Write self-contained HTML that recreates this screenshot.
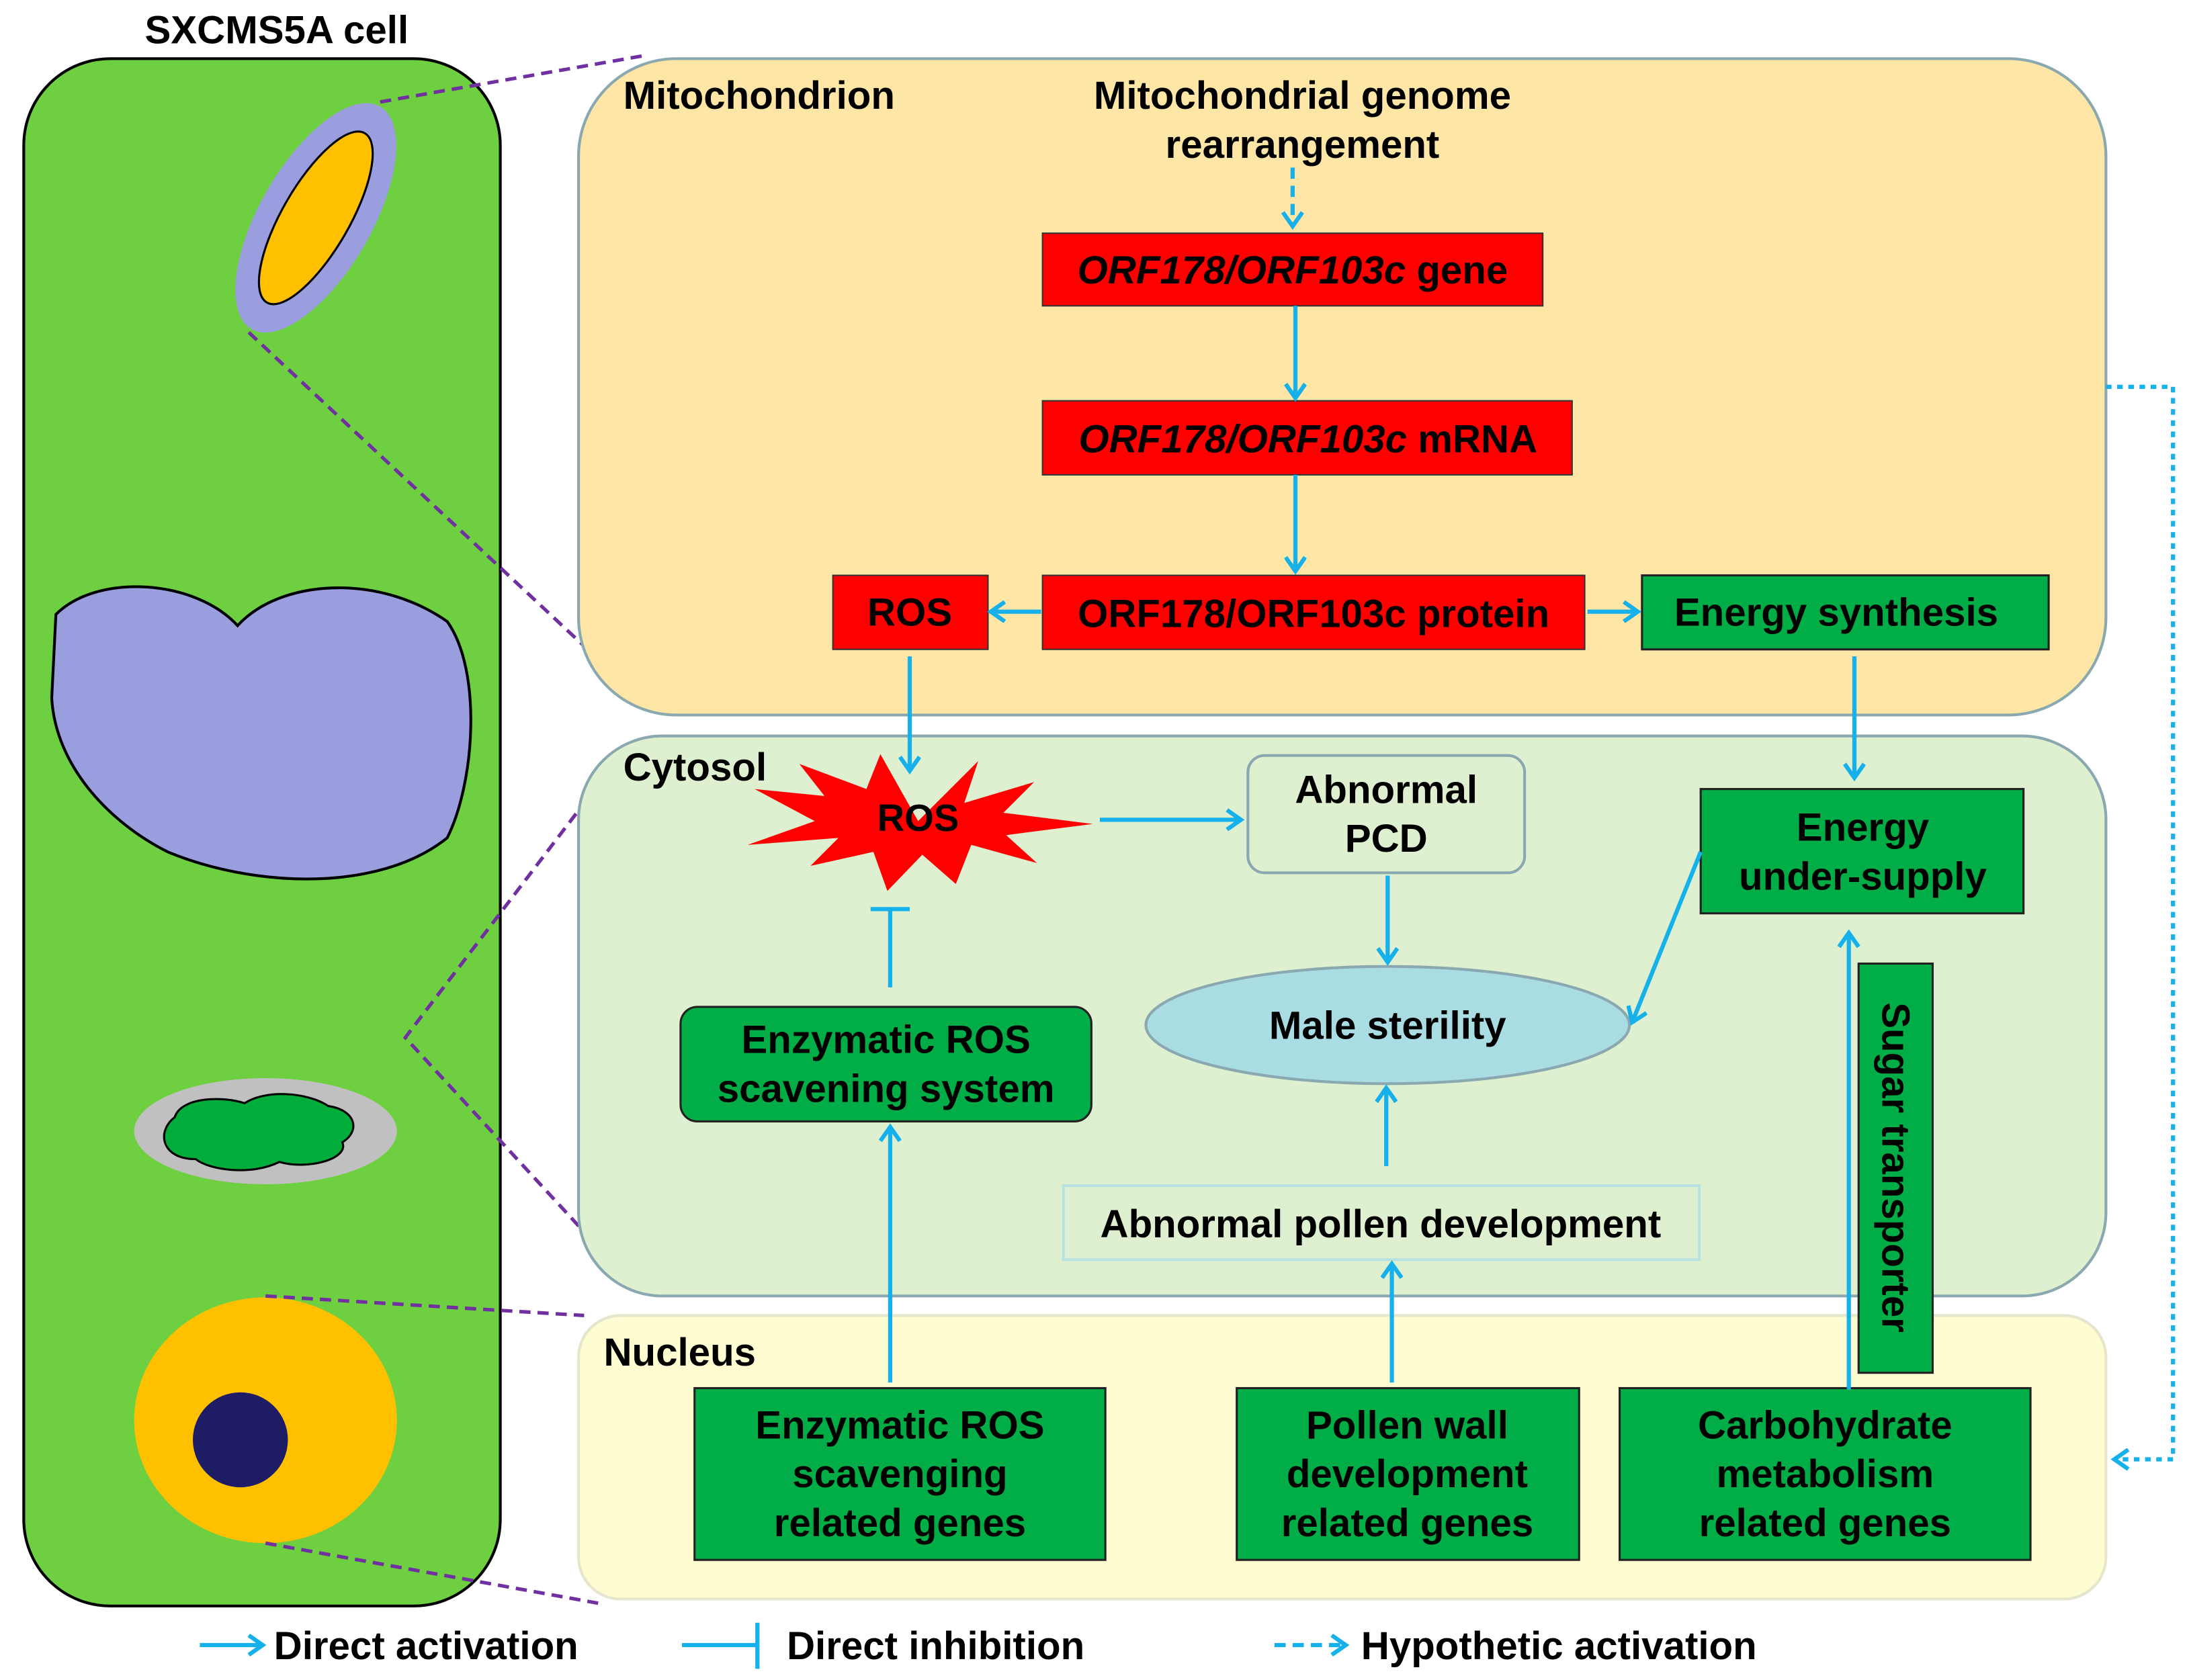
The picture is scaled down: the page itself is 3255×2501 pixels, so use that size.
<!DOCTYPE html>
<html><head><meta charset="utf-8"><style>html,body{margin:0;padding:0;background:#fff}svg{display:block}</style></head>
<body>
<svg width="3255" height="2501" viewBox="0 0 1565 1203" preserveAspectRatio="none" xmlns="http://www.w3.org/2000/svg" font-family="Liberation Sans, Arial, sans-serif" font-weight="bold">
<defs>
<marker id="a" markerWidth="14" markerHeight="16" refX="11" refY="8" orient="auto" markerUnits="userSpaceOnUse"><path d="M1,1 L11,8 L1,15" fill="none" stroke="#16b0ea" stroke-width="3"/></marker>
</defs>
<text x="198" y="31" font-size="28" text-anchor="middle">SXCMS5A cell</text>
<rect x="17" y="42" width="341" height="1108" rx="62" fill="#6ed040" stroke="#000" stroke-width="2"/>
<g transform="rotate(30 226 156)">
<ellipse cx="226" cy="156" rx="40" ry="92" fill="#9b9ede"/>
<ellipse cx="226" cy="156" rx="24" ry="70" fill="#ffc000" stroke="#000" stroke-width="1.5"/>
</g>
<path d="M40,440 C70,410 140,415 170,448 C200,415 270,410 320,445 C345,480 340,560 320,600 C270,640 180,635 120,610 C80,590 40,550 37,500 Z" fill="#9b9ede" stroke="#000" stroke-width="2"/>
<ellipse cx="190" cy="810" rx="94" ry="38" fill="#c0c0c0"/>
<path d="M125,800 C130,785 160,785 175,790 C190,780 220,782 235,792 C255,795 258,810 245,818 C250,830 220,838 200,832 C180,842 150,838 140,830 C115,830 112,810 125,800 Z" fill="#00ad3a" stroke="#000" stroke-width="1.5"/>
<ellipse cx="190" cy="1017" rx="94" ry="88" fill="#ffc000"/>
<circle cx="172" cy="1031" r="34" fill="#1f1c66"/>
<g stroke="#7030a0" stroke-width="2.5" stroke-dasharray="8,5" fill="none">
<path d="M272,73 L460,40"/><path d="M178,238 L428,472"/><path d="M428,562 L290,743 L428,893"/><path d="M190,928 L418,942"/><path d="M190,1105 L428,1148"/>
</g>
<rect x="414" y="42" width="1093" height="470" rx="70" fill="#fee6a6" stroke="#8aa8b0" stroke-width="2"/>
<rect x="414" y="527" width="1093" height="401" rx="60" fill="#dff0d1" stroke="#8aa8b0" stroke-width="2"/>
<rect x="414" y="942" width="1093" height="203" rx="30" fill="#fefdd2" stroke="#e6e6cc" stroke-width="2"/>
<g font-size="28">
<text x="446" y="78">Mitochondrion</text>
<text x="932" y="78" text-anchor="middle">Mitochondrial genome</text>
<text x="932" y="113" text-anchor="middle">rearrangement</text>
<text x="446" y="559">Cytosol</text>
<text x="432" y="978">Nucleus</text>
</g>
<g fill="#ff0000" stroke="#333" stroke-width="1">
<rect x="746" y="167" width="358" height="52"/>
<rect x="746" y="287" width="379" height="53"/>
<rect x="746" y="412" width="388" height="53"/>
<rect x="596" y="412" width="111" height="53"/>
</g>
<g fill="#00ad46" stroke="#222" stroke-width="1.5">
<rect x="1175" y="412" width="291" height="53"/>
<rect x="1217" y="565" width="231" height="89"/>
<rect x="487" y="721" width="294" height="82" rx="12"/>
<rect x="1330" y="690" width="53" height="293"/>
<rect x="497" y="994" width="294" height="123"/>
<rect x="885" y="994" width="245" height="123"/>
<rect x="1159" y="994" width="294" height="123"/>
</g>
<g font-size="28" text-anchor="middle">
<text x="925" y="203"><tspan font-style="italic">ORF178/ORF103c</tspan> gene</text>
<text x="936" y="324"><tspan font-style="italic">ORF178/ORF103c</tspan> mRNA</text>
<text x="940" y="449">ORF178/ORF103c protein</text>
<text x="651" y="448">ROS</text>
<text x="1314" y="448">Energy synthesis</text>
<text x="1333" y="602">Energy</text>
<text x="1333" y="637">under-supply</text>
<text x="634" y="754">Enzymatic ROS</text>
<text x="634" y="789">scavening system</text>
<text x="992" y="575">Abnormal</text>
<text x="992" y="610">PCD</text>
<text x="988" y="886">Abnormal pollen development</text>
<text x="644" y="1030">Enzymatic ROS</text>
<text x="644" y="1065">scavenging</text>
<text x="644" y="1100">related genes</text>
<text x="1007" y="1030">Pollen wall</text>
<text x="1007" y="1065">development</text>
<text x="1007" y="1100">related genes</text>
<text x="1306" y="1030">Carbohydrate</text>
<text x="1306" y="1065">metabolism</text>
<text x="1306" y="1100">related genes</text>
<text transform="translate(1347 836) rotate(90)">Sugar transporter</text>
</g>
<rect x="893" y="541" width="198" height="84" rx="12" fill="none" stroke="#8aa8b0" stroke-width="2"/>
<ellipse cx="993" cy="734" rx="173" ry="42" fill="#a9dde3" stroke="#8aa8b0" stroke-width="2"/>
<text x="993" y="744" font-size="28" text-anchor="middle">Male sterility</text>
<rect x="761" y="849" width="455" height="53" fill="none" stroke="#b8e2e2" stroke-width="2"/>
<polygon points="657,588 700,545 690,575 740,560 718,582 782,590 720,598 742,618 695,605 684,633 660,612 635,638 625,610 580,620 600,600 535,605 583,588 540,565 590,570 572,547 620,565 630,540" fill="#ff0000"/>
<text x="657" y="595" font-size="27" text-anchor="middle">ROS</text>
<g stroke="#16b0ea" stroke-width="3" fill="none" marker-end="url(#a)">
<path d="M925,120 L925,162" stroke-dasharray="8,5"/>
<path d="M927,219 L927,285"/><path d="M927,340 L927,409"/>
<path d="M745,438 L709,438"/><path d="M1136,438 L1172,438"/>
<path d="M651,470 L651,552"/><path d="M1327,470 L1327,557"/>
<path d="M787,587 L888,587"/><path d="M993,627 L993,689"/>
<path d="M1217,610 L1168,732"/>
<path d="M637,990 L637,807"/><path d="M992,835 L992,779"/>
<path d="M996,990 L996,905"/><path d="M1323,995 L1323,668"/>
<path d="M1507,277 L1555,277 L1555,1045 L1513,1045" stroke-dasharray="4,4"/>
<path d="M143,1178 L188,1178"/><path d="M912,1178 L963,1178" stroke-dasharray="8,5"/>
</g>
<g stroke="#16b0ea" stroke-width="3">
<path d="M637,707 L637,651 M623,651 L651,651"/>
<path d="M488,1178 L542,1178 M542,1162 L542,1195"/>
</g>
<g font-size="28">
<text x="196" y="1188">Direct activation</text>
<text x="563" y="1188">Direct inhibition</text>
<text x="974" y="1188">Hypothetic activation</text>
</g>
</svg>
</body></html>
